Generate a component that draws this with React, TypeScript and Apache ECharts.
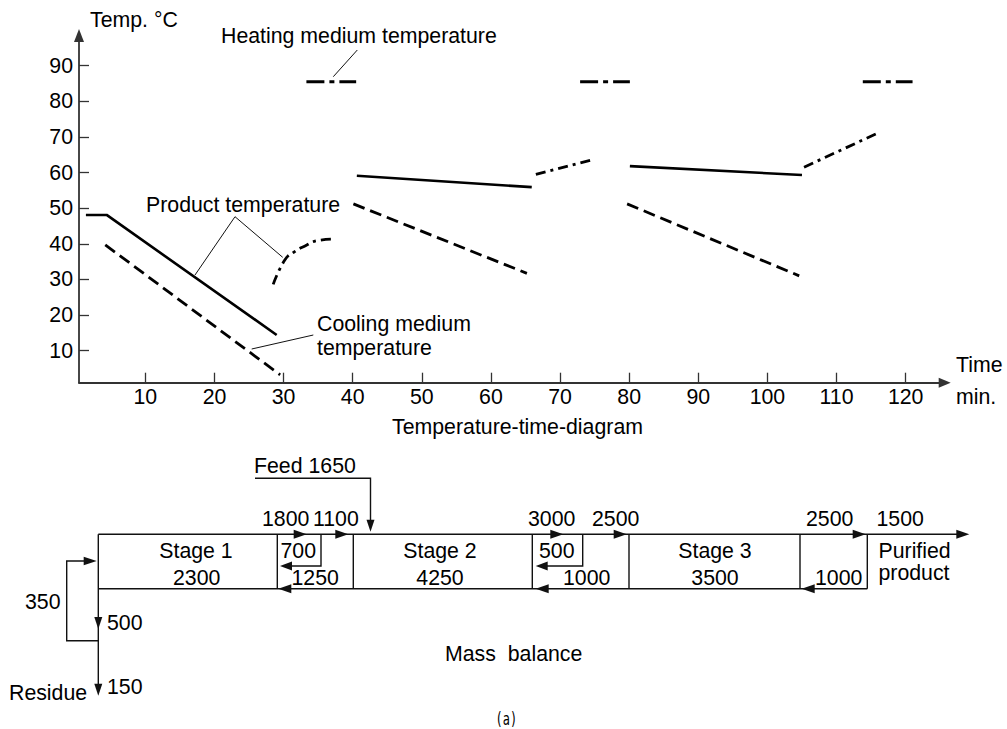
import React, { useEffect, useRef } from "react";
import * as echarts from "echarts";

// ---------- Temperature-time data (time in min, temperature in °C) ----------
const xTicks = [10, 20, 30, 40, 50, 60, 70, 80, 90, 100, 110, 120];
const yTicks = [10, 20, 30, 40, 50, 60, 70, 80, 90];

const productSolidA = [[1.4, 48.1], [4.4, 48.1], [29.0, 14.4]];
const productSolidB = [[40.6, 59.1], [65.9, 55.9]];
const productSolidC = [[80.1, 61.8], [105.0, 59.3]];

const productHeatA = [[28.5, 28.6], [30.2, 35.5], [31.6, 37.8], [33.1, 39.4], [34.7, 40.8], [37.1, 41.3]];
const productHeatB = [[66.5, 59.5], [74.5, 63.5]];
const productHeatC = [[105.3, 61.5], [116.1, 71.2]];

const heatingA = [[33.3, 85.5], [40.5, 85.5]];
const heatingB = [[72.9, 85.5], [80.1, 85.5]];
const heatingC = [[113.8, 85.5], [121.0, 85.5]];

const coolingA = [[4.2, 39.7], [29.5, 3.2]];
const coolingB = [[40.1, 51.2], [65.2, 31.7]];
const coolingC = [[79.7, 51.2], [104.6, 31.0]];

// ---------- Mass balance data ----------
const feedFlow = 1650;
const stageNames = ["Stage 1", "Stage 2", "Stage 3"];
const stageHoldup = [2300, 4250, 3500];
const topFlows = [1800, 1100, 3000, 2500, 2500, 1500];
const innerRecycle = [700, 500];
const bottomFlows = [1250, 1000, 1000];
const residueFlows = [500, 350, 150];

const FONT = '"Liberation Sans", Arial, Helvetica, sans-serif';
const FS = 21.3;
const INK = "#111";

const txt = (text: string, x: number, y: number, align = "left", extra: any = {}) => ({
  type: "text",
  x,
  y,
  silent: true,
  style: { text, fill: "#000", fontSize: FS, fontFamily: FONT, align, verticalAlign: "middle", ...extra },
});
const ln = (x1: number, y1: number, x2: number, y2: number, w = 1.4) => ({
  type: "line",
  silent: true,
  shape: { x1, y1, x2, y2 },
  style: { stroke: INK, lineWidth: w },
});
const pl = (points: number[][], w = 1.4) => ({
  type: "polyline",
  silent: true,
  shape: { points },
  style: { stroke: INK, lineWidth: w, fill: null },
});
const tri = (points: number[][]) => ({
  type: "polygon",
  silent: true,
  shape: { points },
  style: { fill: INK, stroke: null },
});
const arrowR = (tip: number, y: number, len = 13, h = 4.5) => tri([[tip, y], [tip - len, y - h], [tip - len, y + h]]);
const arrowL = (tip: number, y: number, len = 13, h = 4.5) => tri([[tip, y], [tip + len, y - h], [tip + len, y + h]]);
const arrowD = (x: number, tip: number, len = 12, h = 4) => tri([[x, tip], [x - h, tip - len], [x + h, tip - len]]);

function lineSeries(name: string, data: number[][], type: any, width: number, smooth = false) {
  return {
    type: "line",
    name,
    data,
    smooth,
    symbol: "none",
    showSymbol: false,
    silent: true,
    lineStyle: { color: "#000", width, type, cap: "butt" },
  };
}

export default function App() {
  const ref = useRef<HTMLDivElement>(null);
  useEffect(() => {
    if (!ref.current) return;
    const chart = echarts.init(ref.current, undefined, { renderer: "svg" });

    const top = 534.3;
    const bot = 588.7;
    const mid = 566;

    const graphic: any[] = [
      // Temperature diagram annotations
      txt("Temp. °C", 90, 20),
      txt("Heating medium temperature", 221, 36),
      ln(357.3, 50, 333.3, 76.7, 1),
      txt("Product temperature", 146, 205),
      ln(235, 216.7, 195, 275, 1),
      ln(235, 216.7, 282.7, 257.3, 1),
      txt("Cooling medium", 317, 323.7),
      txt("temperature", 317, 347.7),
      ln(313.3, 335, 251.7, 349, 1),
      txt("Time", 956, 365),
      txt("min.", 956, 397),
      txt("Temperature-time-diagram", 517.5, 427, "center"),

      // Mass balance: main frame
      ln(98.3, top, 957, top),
      arrowR(969.3, top),
      ln(98.3, bot, 867.3, bot),
      ln(98.3, top, 98.3, 684),
      ln(277.3, top, 277.3, bot),
      ln(353.3, top, 353.3, bot),
      ln(532.3, top, 532.3, bot),
      ln(629, top, 629, bot),
      ln(800, top, 800, bot),
      ln(867.3, top, 867.3, bot),
      // inner recycle loops
      pl([[321, top], [321, mid], [290, mid]]),
      arrowL(280, mid, 12, 4.5),
      pl([[582.7, top], [582.7, mid], [547, mid]]),
      arrowL(535.7, mid, 12, 4.5),
      // top arrows
      arrowR(306.7, top),
      arrowR(348.3, top),
      arrowR(563.3, top),
      arrowR(626.7, top),
      arrowR(865.7, top),
      // bottom arrows
      arrowL(278.3, bot),
      arrowL(535.7, bot),
      arrowL(801.7, bot),
      // feed
      pl([[255, 478.3], [370.5, 478.3], [370.5, 520]]),
      arrowD(370.5, 531.7),
      // residue & recycle
      arrowD(98.3, 629),
      arrowD(98.3, 695.7),
      pl([[98.3, 640.7], [66.7, 640.7], [66.7, 561], [85, 561]]),
      arrowR(96.7, 561, 13, 4.2),

      // Mass balance texts
      txt("Feed " + feedFlow, 254, 465.5),
      txt(String(topFlows[0]), 262, 519.3),
      txt(String(topFlows[1]), 313, 519.3),
      txt(String(topFlows[2]), 528, 519.3),
      txt(String(topFlows[3]), 592, 519.3),
      txt(String(topFlows[4]), 806, 519.3),
      txt(String(topFlows[5]), 876.5, 519.3),
      txt(stageNames[0], 196, 551.2, "center"),
      txt(String(stageHoldup[0]), 196.7, 577.8, "center"),
      txt(stageNames[1], 440, 551.2, "center"),
      txt(String(stageHoldup[1]), 440, 578.3, "center"),
      txt(stageNames[2], 715, 551.2, "center"),
      txt(String(stageHoldup[2]), 715, 578.3, "center"),
      txt(String(innerRecycle[0]), 280.5, 551.2),
      txt(String(innerRecycle[1]), 539, 551.2),
      txt(String(bottomFlows[0]), 291.5, 577.8),
      txt(String(bottomFlows[1]), 563, 578.3),
      txt(String(bottomFlows[2]), 815, 578.3),
      txt("Purified", 878.5, 551.2),
      txt("product", 878.5, 573),
      txt(String(residueFlows[0]), 107, 622.5),
      txt(String(residueFlows[1]), 25, 602.2),
      txt(String(residueFlows[2]), 107, 687.2),
      txt("Residue", 9, 692.5),
      txt("Mass  balance", 445, 654.3),
      {
        ...txt("(a)", 506.3, 719, "center", { fontSize: 17, fontFamily: '"DejaVu Sans Mono", monospace' }),
        scaleX: 0.7,
      },
    ];

    const dashDotHeat = [18, 5, 5, 5];
    const dashDotProd = [10, 5, 3, 5];
    const dashed = [12, 6];

    chart.setOption({
      animation: false,
      backgroundColor: "#fff",
      grid: {
        left: 79,
        right: 62.3,
        top: 35.4,
        bottom: 346.3,
        containLabel: false,
        outerBoundsMode: "none",
      },
      xAxis: {
        type: "value",
        min: 0.4,
        max: 125.65,
        axisLine: {
          onZero: false,
          symbol: ["none", "triangle"],
          symbolSize: [10, 12],
          lineStyle: { color: "#333", width: 1.8 },
        },
        axisTick: { customValues: xTicks, inside: true, length: 10, lineStyle: { color: "#333", width: 1.3 } },
        axisLabel: { customValues: xTicks, margin: 4, color: "#000", fontSize: FS, fontFamily: FONT },
        splitLine: { show: false },
      },
      yAxis: {
        type: "value",
        min: 1,
        max: 98.5,
        axisLine: {
          show: true,
          onZero: false,
          symbol: ["none", "triangle"],
          symbolSize: [10, 13],
          lineStyle: { color: "#333", width: 1.8 },
        },
        axisTick: { show: true, customValues: yTicks, inside: true, length: 10, lineStyle: { color: "#333", width: 1.3 } },
        axisLabel: { customValues: yTicks, margin: 6, color: "#000", fontSize: FS, fontFamily: FONT },
        splitLine: { show: false },
      },
      series: [
        lineSeries("Product temperature", productSolidA, "solid", 2.6),
        lineSeries("Product temperature", productSolidB, "solid", 2.6),
        lineSeries("Product temperature", productSolidC, "solid", 2.6),
        lineSeries("Product temperature (heating)", productHeatA, dashDotProd, 2.8, true),
        lineSeries("Product temperature (heating)", productHeatB, dashDotProd, 2.8),
        lineSeries("Product temperature (heating)", productHeatC, dashDotProd, 2.8),
        lineSeries("Heating medium temperature", heatingA, dashDotHeat, 3),
        lineSeries("Heating medium temperature", heatingB, dashDotHeat, 3),
        lineSeries("Heating medium temperature", heatingC, dashDotHeat, 3),
        lineSeries("Cooling medium temperature", coolingA, dashed, 2.8),
        lineSeries("Cooling medium temperature", coolingB, dashed, 2.8),
        lineSeries("Cooling medium temperature", coolingC, dashed, 2.8),
      ],
      graphic,
    });
    return () => chart.dispose();
  }, []);
  return (
    <div
      ref={ref}
      style={{ position: "fixed", left: 0, top: 0, width: 1007, height: 729, background: "#fff" }}
    />
  );
}
